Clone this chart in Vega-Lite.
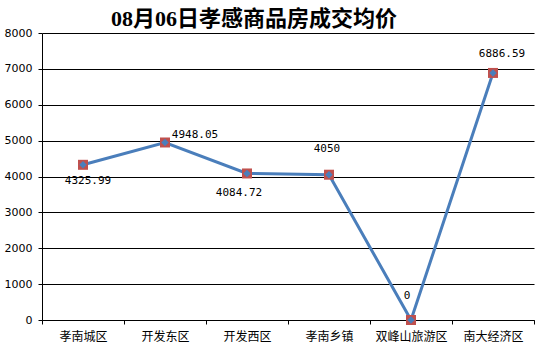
{
  "$schema": "https://vega.github.io/schema/vega-lite/v6.json",
  "width": 492,
  "height": 287,
  "autosize": "none",
  "padding": {"left": 42, "top": 33, "right": 4, "bottom": 33},
  "background": "white",
  "title": {
    "text": "08月06日孝感商品房成交均价",
    "font": "Liberation Serif, Noto Sans CJK SC",
    "fontSize": 22,
    "fontWeight": "bold",
    "color": "black",
    "anchor": "middle",
    "dx": -34,
    "offset": -4
  },
  "data": {
    "values": [
      {"区域": "孝南城区", "均价": 4325.99, "标签": "4325.99"},
      {"区域": "开发东区", "均价": 4948.05, "标签": "4948.05"},
      {"区域": "开发西区", "均价": 4084.72, "标签": "4084.72"},
      {"区域": "孝南乡镇", "均价": 4050, "标签": "4050"},
      {"区域": "双峰山旅游区", "均价": 0, "标签": "0"},
      {"区域": "南大经济区", "均价": 6886.59, "标签": "6886.59"}
    ]
  },
  "encoding": {
    "x": {
      "field": "区域",
      "type": "nominal",
      "sort": null,
      "scale": {"type": "band", "paddingInner": 0, "paddingOuter": 0},
      "axis": {
        "title": null,
        "labelAngle": 0,
        "tickBand": "extent",
        "tickSize": 4,
        "tickColor": "black",
        "domainColor": "black",
        "labelFont": "Noto Sans CJK SC",
        "labelFontSize": 12,
        "labelColor": "black",
        "labelPadding": 7,
        "grid": false
      }
    },
    "y": {
      "field": "均价",
      "type": "quantitative",
      "scale": {"domain": [0, 8000], "nice": false},
      "axis": {
        "title": null,
        "values": [0, 1000, 2000, 3000, 4000, 5000, 6000, 7000, 8000],
        "format": "d",
        "tickSize": 4,
        "tickColor": "black",
        "domainColor": "black",
        "grid": true,
        "gridColor": "black",
        "gridOpacity": 1,
        "labelFont": "DejaVu Sans",
        "labelFontSize": 11,
        "labelColor": "black",
        "labelPadding": 6
      }
    }
  },
  "layer": [
    {"mark": {"type": "line", "color": "#4a7ebb", "strokeWidth": 3}},
    {"mark": {"type": "point", "shape": "square", "filled": true, "size": 100, "color": "#c0504d", "opacity": 1}},
    {"mark": {"type": "point", "shape": "diamond", "filled": true, "size": 55, "color": "#4a7ebb", "opacity": 1}},
    {
      "transform": [{"filter": "datum['区域'] == '孝南城区'"}],
      "mark": {"type": "text", "font": "DejaVu Sans Mono", "fontSize": 11, "color": "black", "dx": 5, "dy": 16},
      "encoding": {"text": {"field": "标签"}}
    },
    {
      "transform": [{"filter": "datum['区域'] == '开发东区'"}],
      "mark": {"type": "text", "font": "DejaVu Sans Mono", "fontSize": 11, "color": "black", "dx": 30, "dy": -7},
      "encoding": {"text": {"field": "标签"}}
    },
    {
      "transform": [{"filter": "datum['区域'] == '开发西区'"}],
      "mark": {"type": "text", "font": "DejaVu Sans Mono", "fontSize": 11, "color": "black", "dx": -8, "dy": 20},
      "encoding": {"text": {"field": "标签"}}
    },
    {
      "transform": [{"filter": "datum['区域'] == '孝南乡镇'"}],
      "mark": {"type": "text", "font": "DejaVu Sans Mono", "fontSize": 11, "color": "black", "dx": -2, "dy": -26},
      "encoding": {"text": {"field": "标签"}}
    },
    {
      "transform": [{"filter": "datum['区域'] == '双峰山旅游区'"}],
      "mark": {"type": "text", "font": "DejaVu Sans Mono", "fontSize": 11, "color": "black", "dx": -4, "dy": -24},
      "encoding": {"text": {"field": "标签"}}
    },
    {
      "transform": [{"filter": "datum['区域'] == '南大经济区'"}],
      "mark": {"type": "text", "font": "DejaVu Sans Mono", "fontSize": 11, "color": "black", "dx": 9, "dy": -19},
      "encoding": {"text": {"field": "标签"}}
    }
  ],
  "config": {"view": {"stroke": null}}
}
